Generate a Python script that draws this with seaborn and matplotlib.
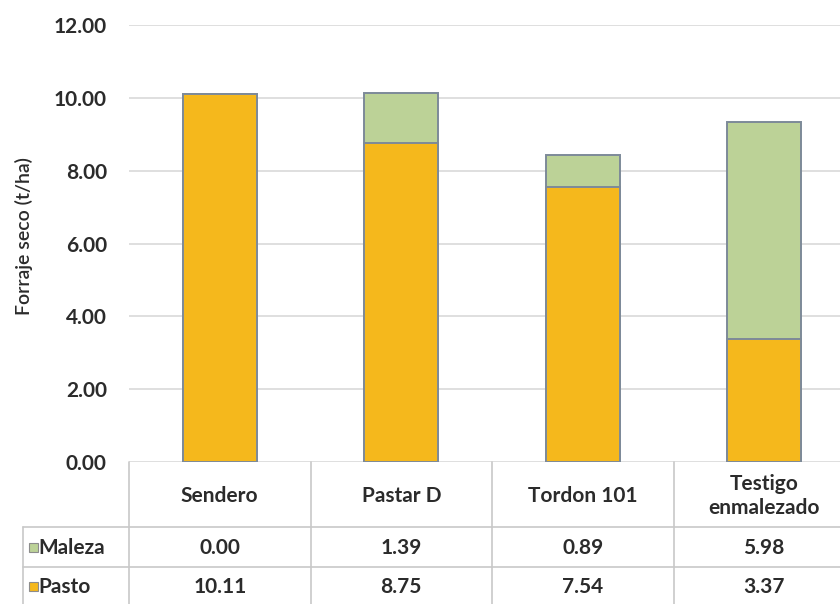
import matplotlib
matplotlib.use("Agg")
import matplotlib.pyplot as plt
import matplotlib.transforms as mtransforms
from matplotlib.lines import Line2D
from matplotlib.patches import Rectangle
import seaborn as sns
import pandas as pd

categories = ["Sendero", "Pastar D", "Tordon 101", "Testigo\nenmalezado"]
maleza = [0.00, 1.39, 0.89, 5.98]
pasto = [10.11, 8.75, 7.54, 3.37]
series_names = ["Maleza", "Pasto"]
y_ticks = [0, 2, 4, 6, 8, 10, 12]
y_label = "Forraje seco (t/ha)"

col_orange = "#F5B81C"
col_green = "#BCD297"
edge_col = "#7D8A99"
grid_col = "#D9D9D9"
table_col = "#C8C8C8"
txt_col = "#2B2B2B"

sns.set_theme(style="white")
plt.rcParams["font.family"] = ["Lato", "DejaVu Sans"]

W, H = 840, 604
fig = plt.figure(figsize=(W / 100, H / 100), dpi=100)
ax = fig.add_axes([129 / W, 1 - 462 / H, 726 / W, (462 - 25) / H])

df = pd.DataFrame({"cat": categories, "Maleza": maleza, "Pasto": pasto})
df["Total"] = df["Maleza"] + df["Pasto"]

sns.barplot(data=df, x="cat", y="Total", color=col_green, saturation=1,
            width=0.405, edgecolor=edge_col, linewidth=1.4, ax=ax, zorder=3)
sns.barplot(data=df, x="cat", y="Pasto", color=col_orange, saturation=1,
            width=0.405, edgecolor=edge_col, linewidth=1.4, ax=ax, zorder=4)

ax.set_xlim(-0.5, 3.5)
ax.set_ylim(0, 12)
ax.set_yticks(y_ticks)
ax.set_yticklabels([f"{v:.2f}" for v in y_ticks], fontsize=15, fontweight="bold",
                   color=txt_col)
ax.tick_params(axis="y", length=0, pad=16)
ax.set_xticks([])
ax.set_xlabel("")
ax.set_ylabel("")
ax.yaxis.grid(True, color=grid_col, linewidth=1.2, zorder=0)
ax.set_axisbelow(True)
for s in ax.spines.values():
    s.set_visible(False)

fig.text(24 / W, 1 - 236 / H, y_label, rotation=90, ha="center", va="center",
         fontsize=14, fontweight="semibold", color=txt_col)

# data table below
blend = mtransforms.blended_transform_factory(ax.transData, fig.transFigure)
def fy(px):
    return 1 - px / H

tfs = 15
for i, c in enumerate(categories):
    ax.text(i, fy(496), c, transform=blend, ha="center", va="center",
            fontsize=tfs, fontweight="bold", color=txt_col, linespacing=1.3,
            clip_on=False)
    ax.text(i, fy(548), f"{maleza[i]:.2f}", transform=blend, ha="center",
            va="center", fontsize=tfs, fontweight="bold", color=txt_col, clip_on=False)
    ax.text(i, fy(587), f"{pasto[i]:.2f}", transform=blend, ha="center",
            va="center", fontsize=tfs, fontweight="bold", color=txt_col, clip_on=False)

for xv in [-0.5, 0.5, 1.5, 2.5, 3.5]:
    ax.plot([xv, xv], [fy(462), fy(606)], transform=blend, color=table_col,
            linewidth=1.2, clip_on=False)

for ypx in [527, 567]:
    fig.add_artist(Line2D([23 / W, 1], [fy(ypx), fy(ypx)], color=table_col,
                          linewidth=1.2))
fig.add_artist(Line2D([23 / W, 23 / W], [fy(527), fy(606)], color=table_col,
                      linewidth=1.2))

row_cols = [col_green, col_orange]
row_ys = [548, 587]
for name, colr, ypx in zip(series_names, row_cols, row_ys):
    fig.add_artist(Rectangle((29 / W, fy(ypx + 4)), 9 / W, 9 / H,
                             facecolor=colr, edgecolor="#8C8C8C", linewidth=0.8))
    fig.text(38 / W, fy(ypx), name, ha="left", va="center", fontsize=tfs,
             fontweight="bold", color=txt_col)

fig.savefig("out.png", dpi=100)
